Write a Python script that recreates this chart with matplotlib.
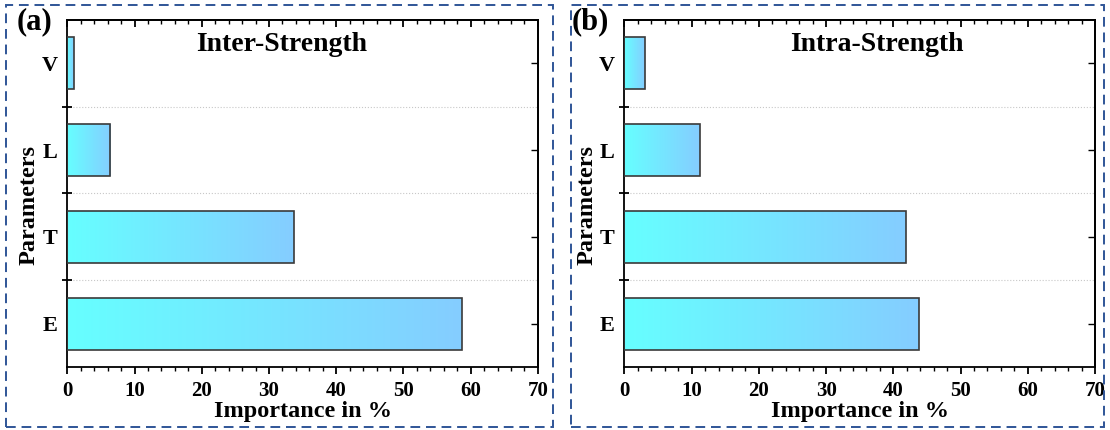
import matplotlib
matplotlib.use("Agg")
import matplotlib.pyplot as plt
import numpy as np
from matplotlib.colors import LinearSegmentedColormap
from matplotlib.patches import Rectangle

# ── Data ──────────────────────────────────────────────────────────────────────
params = ["E", "T", "L", "V"]
inter_strength = [58.7, 33.7, 6.4, 1.0]
intra_strength = [43.8, 41.9, 11.3, 3.0]
panel_titles = ["Inter-Strength", "Intra-Strength"]
panel_labels = ["(a)", "(b)"]
xticks = [0, 10, 20, 30, 40, 50, 60, 70]

# ── Styling ───────────────────────────────────────────────────────────────────
FONT = "Liberation Serif"
EDGE = "#3a3a3a"
FRAME = "#2f5597"
grad = LinearSegmentedColormap.from_list("cyanblue", ["#66ffff", "#85cdff"])

plt.rcParams.update({
    "font.family": FONT,
    "font.weight": "bold",
    "axes.linewidth": 1.3,
})

fig = plt.figure(figsize=(11.1, 4.3), dpi=100)

# dashed panel frames
for x0, w in [(0.005, 0.493), (0.514, 0.481)]:
    fig.patches.append(Rectangle((x0, 0.006), w, 0.982, transform=fig.transFigure,
                                 fill=False, edgecolor=FRAME, linewidth=1.4,
                                 linestyle=(0, (5, 3))))


def draw_panel(ax, values, title, label, title_x, label_x):
    y = np.arange(len(params))
    bars = ax.barh(y, values, height=0.6, color="none", edgecolor=EDGE,
                   linewidth=1.2, zorder=3)
    # gradient fill clipped to each bar
    for bar in bars:
        x0, y0 = bar.get_x(), bar.get_y()
        w, h = bar.get_width(), bar.get_height()
        im = ax.imshow(np.linspace(0, 1, 256).reshape(1, -1), cmap=grad,
                       extent=(x0, x0 + w, y0, y0 + h), aspect="auto",
                       zorder=2, interpolation="bicubic")
        im.set_clip_path(bar)

    ax.set_xlim(0, 70)
    ax.set_ylim(-0.5, len(params) - 0.5)
    ax.set_aspect("auto")

    # x axis: bottom ticks outward, top ticks inward
    ax.set_xticks(xticks)
    ax.set_xticks(np.arange(0, 71, 2), minor=True)
    ax.tick_params(axis="x", which="major", direction="out", length=5, width=1.3,
                   labelsize=15, pad=5)
    ax.tick_params(axis="x", which="minor", direction="out", length=3, width=1.0)
    top = ax.secondary_xaxis("top")
    top.set_xticks(xticks)
    top.set_xticks(np.arange(0, 71, 2), minor=True)
    top.tick_params(which="major", direction="in", length=5, width=1.3, labeltop=False)
    top.tick_params(which="minor", direction="in", length=3, width=1.0)

    # y axis: labels at centres, ticks at category boundaries
    ax.set_yticks(y)
    ax.set_yticklabels(params, fontsize=16)
    ax.tick_params(axis="y", which="major", length=0, pad=7)
    bounds = np.arange(0.5, len(params) - 0.5, 1.0)
    ax.set_yticks(bounds, minor=True)
    ax.tick_params(axis="y", which="minor", direction="inout", length=7, width=1.3)
    right = ax.secondary_yaxis("right")
    right.set_yticks(y)
    right.tick_params(direction="in", length=5, width=1.0, labelright=False)

    for b in bounds:
        ax.axhline(b, color="#c8c8c8", linestyle=":", linewidth=0.8, zorder=1)

    ax.set_xlabel("Importance in %", fontsize=17.5, fontweight="bold", labelpad=0)
    ax.set_ylabel("Parameters", fontsize=17.5, fontweight="bold")
    ax.yaxis.set_label_coords(-0.058, 0.467)
    ax.text(title_x, 0.93, title, transform=ax.transAxes, ha="center", va="center",
            fontsize=20, fontweight="bold")
    fig.text(label_x, 0.95, label, ha="left", va="center",
             fontsize=22, fontweight="bold")


ax1 = fig.add_axes([0.0606, 0.1465, 0.424, 0.807])
ax2 = fig.add_axes([0.5625, 0.1465, 0.424, 0.807])

draw_panel(ax1, inter_strength, panel_titles[0], panel_labels[0], 0.455, 0.015)
draw_panel(ax2, intra_strength, panel_titles[1], panel_labels[1], 0.536, 0.515)

fig.savefig("out.png", dpi=100)
